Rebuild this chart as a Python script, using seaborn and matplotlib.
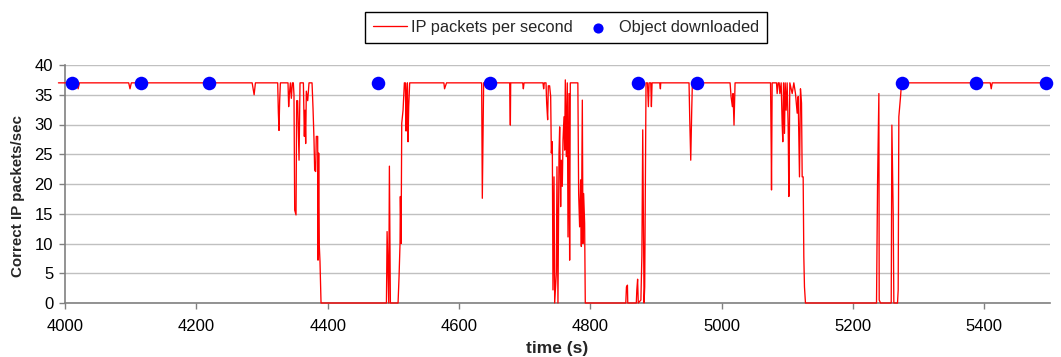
import matplotlib
matplotlib.use("Agg")
import matplotlib.pyplot as plt
import seaborn as sns
import pandas as pd

# ---- data -------------------------------------------------------------
line_t = [3990, 4018, 4020, 4022, 4097, 4099, 4101, 4285, 4288, 4290,
          4323.9, 4324.9, 4325.9, 4326.9, 4328, 4339.6, 4340.6, 4341.6, 4343.2, 4344.7,
          4346.2, 4347.7, 4348.7, 4349.8, 4351.8, 4352.8, 4354.3, 4356.4, 4357.9, 4363,
          4364.5, 4365.5, 4366.5, 4367.5, 4369.6, 4371.6, 4376.2, 4377.7, 4379.2, 4380.2,
          4381.7, 4382.7, 4384.8, 4385.3, 4386.3, 4387.3, 4388.3, 4389.9,
          4489.5, 4490.5, 4492, 4493, 4494, 4495.5,
          4507.2, 4508.7, 4510.2, 4510.7, 4511.8, 4512.8, 4514.8, 4516.8, 4518.3, 4519.4,
          4520.4, 4521.4, 4522.4, 4523.4, 4524.9,
          4577, 4578, 4579.5, 4581, 4634.5, 4635.5, 4636.5, 4637.5, 4677.2, 4678.2, 4678.7,
          4697, 4698, 4699,
          4727.9, 4728.9, 4729.9, 4732.5, 4733.5, 4735, 4736, 4738, 4739.6, 4740.6,
          4742.1, 4743.1, 4744.7, 4745.7, 4748.2, 4749.2, 4750.7, 4752.3, 4753.3, 4754.8,
          4755.8, 4757.3, 4758.4, 4759.9, 4760.9, 4761.9, 4763.4, 4764.9, 4766, 4767.5,
          4768.5, 4769.5, 4781, 4782.2, 4783.7, 4785.2, 4786.3, 4787.8, 4788.8, 4789.8,
          4791.3, 4792.3,
          4854, 4855, 4856.5, 4857, 4870, 4870.8, 4872, 4873, 4877, 4878.5, 4879.8,
          4881.8, 4882.8, 4884.8, 4887, 4888.4, 4889.5, 4892, 4893, 4894,
          4905.7, 4906.7, 4907.2, 4950.3, 4951.4, 4952.9, 4954.4, 4955.4,
          5012.8, 5014.3, 5016.3, 5017.3, 5018.8, 5020.4,
          5074.4, 5075.4, 5075.9, 5076.9, 5083.5, 5084.5, 5086, 5087.6, 5088.6, 5090.6,
          5092.1, 5093.1, 5094.2, 5095.7, 5096.7, 5098.2, 5099.7, 5101.3, 5102.3, 5103.8,
          5107.4, 5109.9, 5112.4, 5115, 5116.5, 5118.5, 5120, 5121.6, 5122.6, 5124.1,
          5125.1, 5126.1, 5127.6,
          5235.8, 5237.4, 5239.4, 5239.9, 5241.9, 5258.2, 5259.2, 5261.2, 5262.2,
          5267.8, 5268.8, 5269.8, 5272.4, 5273.9, 5409, 5410.5, 5412, 5500]
line_v = [37, 37, 36, 37, 37, 36, 37, 37, 35, 37,
          37, 32, 29, 34, 37, 37, 33, 35, 37, 34.4,
          37, 37, 35, 15.6, 14.8, 34, 34, 24, 37, 37,
          28, 32.4, 26.8, 35.6, 34, 37, 37, 32.7, 27.4, 22.3,
          22.1, 28, 28, 7.2, 25.2, 9.5, 7, 0,
          0, 12, 5, 0, 23, 0,
          0, 4.4, 10, 17.9, 10, 30.2, 32.4, 37, 37, 28.9,
          35, 37, 27.1, 33, 37,
          37, 36, 36.5, 37, 37, 17.6, 28, 37, 37, 29.9, 37,
          37, 36, 37,
          37, 36, 37, 37, 33.6, 30.8, 36.5, 36.5, 34.7, 25.2,
          27.1, 2.2, 21.2, 0, 5, 22.9, 0, 25.2, 29.6, 16.2,
          24, 19.6, 27.4, 31.3, 25.7, 37.5, 24.6, 37, 11.1, 35.2,
          7.2, 37, 37, 18.4, 12.8, 20.7, 9.5, 34.1, 10, 18.4,
          13.4, 0,
          0, 2.7, 3, 0, 0, 2.2, 4, 0, 0.5, 8, 29.1,
          0, 2.7, 37, 37, 33, 37, 37, 33, 37,
          37, 36, 37, 37, 30.8, 24, 32.4, 37,
          37, 34.7, 33, 35.2, 29.9, 37,
          37, 26.3, 19, 37, 37, 35.2, 37, 37, 35.2, 37,
          30.2, 27.1, 37, 28.5, 37, 32.4, 37, 29.6, 17.9, 37,
          35.2, 37, 35.2, 31.9, 34.7, 21.2, 36, 33.6, 21.2, 21.2,
          7.8, 2.7, 0,
          0, 20.1, 35.2, 0.5, 0, 0, 29.9, 15.1, 0,
          0, 2.2, 31.3, 34.7, 37, 37, 36, 37, 37]

dot_t = [4010, 4116, 4219, 4477, 4647, 4872, 4963, 5274, 5387, 5494]
dot_v = [37, 37, 37, 37, 37, 37, 37, 37, 37, 37]

series_labels = ["IP packets per second", "Object downloaded"]
x_label = "time (s)"
y_label = "Correct IP packets/sec"
x_ticks = [4000, 4200, 4400, 4600, 4800, 5000, 5200, 5400]
y_ticks = [0, 5, 10, 15, 20, 25, 30, 35, 40]

# ---- plot -------------------------------------------------------------
sns.set_style("white")
plt.rcParams["font.family"] = ["Liberation Sans", "DejaVu Sans"]

line_df = pd.DataFrame({"t": line_t, "v": line_v})
dot_df = pd.DataFrame({"t": dot_t, "v": dot_v})

W, H = 1061, 357
fig = plt.figure(figsize=(W / 100, H / 100), dpi=100)
ax = fig.add_axes([65 / W, 1 - 303 / H, (1050 - 65) / W, (303 - 65) / H])

sns.lineplot(data=line_df, x="t", y="v", ax=ax, color="#ff0000", linewidth=0.95,
             estimator=None, sort=False, label=series_labels[0], zorder=3)
ax.lines[-1].set_clip_on(False)
sns.scatterplot(data=dot_df, x="t", y="v", ax=ax, color="#0000ff", s=95,
                linewidth=0, label=series_labels[1], zorder=4, clip_on=False)

ax.set_xlim(4000, 5500)
ax.set_ylim(0, 40)
ax.set_xticks(x_ticks)
ax.set_yticks(y_ticks)
ax.yaxis.grid(True, color="#c0c0c0", linewidth=1)
ax.set_axisbelow(True)
for s in ["top", "right"]:
    ax.spines[s].set_visible(False)
for s in ["left", "bottom"]:
    ax.spines[s].set_color("#808080")
    ax.spines[s].set_linewidth(1.2)
ax.tick_params(axis="both", which="major", direction="out", length=4.5, width=1,
               color="#808080", labelsize=12, labelcolor="black",
               left=True, bottom=True)
ax.tick_params(axis="x", pad=7)
ax.tick_params(axis="y", pad=4)
ax.set_xlabel(x_label, fontsize=12.5, fontweight="bold")
ax.set_ylabel(y_label, fontsize=10.9, fontweight="bold")
ax.xaxis.set_label_coords(0.5, -(348 - 303) / 238, transform=ax.transAxes)
ax.xaxis.label.set_va("center")
ax.yaxis.set_label_coords((18 - 65) / 985, (303 - 196) / 238, transform=ax.transAxes)
ax.yaxis.label.set_va("center")

handles, labels = ax.get_legend_handles_labels()
ax.get_legend().remove()
leg = fig.legend(handles, labels, loc="center", bbox_to_anchor=(566 / W, 1 - 27.5 / H),
                 ncol=2, fontsize=11.8, frameon=True, fancybox=False, framealpha=1,
                 edgecolor="black", handlelength=2.1, columnspacing=0.45,
                 borderpad=0.5, markerscale=0.75, handletextpad=0.25)
leg.get_frame().set_linewidth(1.0)

fig.savefig("out.png", dpi=100)
